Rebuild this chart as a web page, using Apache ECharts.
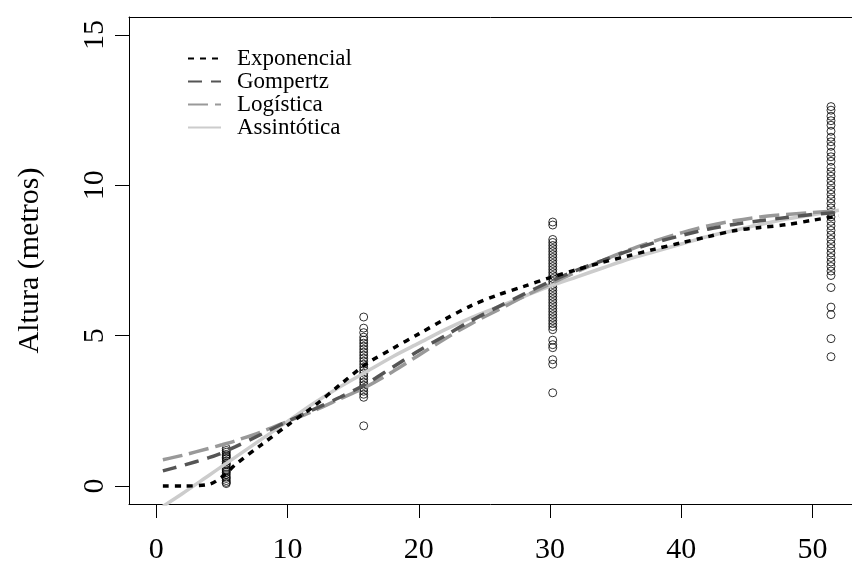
<!DOCTYPE html>
<html>
<head>
<meta charset="utf-8">
<script src="https://cdn.jsdelivr.net/npm/echarts@6/dist/echarts.min.js"></script>
<style>
  html, body { margin: 0; padding: 0; background: #fff; }
  #chart { width: 852px; height: 562px; }
</style>
</head>
<body>
<div id="chart"></div>
<script>
// observed heights (metros) at each age
const ageCol = [5.33, 15.8, 30.2, 51.4];
const heights1 = [0.08, 0.12, 0.18, 0.25, 0.3, 0.38, 0.45, 0.5, 0.55, 0.62, 0.7, 0.75, 0.82, 0.9, 0.95, 1.0, 1.05, 1.12, 1.18, 1.25];
const heights2 = [5.62, 5.25, 5.1, 4.95, 4.85, 4.75, 4.65, 4.55, 4.45, 4.35, 4.25, 4.15, 4.05, 3.95, 3.85, 3.75, 3.65, 3.55, 3.45, 3.35, 3.25, 3.15, 3.05, 2.95, 2.0];
const heights3 = [8.78, 8.68, 8.2, 8.1, 8.0, 7.9, 7.8, 7.7, 7.6, 7.5, 7.4, 7.3, 7.2, 7.1, 7.0, 6.9, 6.8, 6.7, 6.6, 6.5, 6.4, 6.3, 6.2, 6.1, 6.0, 5.9, 5.8, 5.7, 5.6, 5.5, 5.4, 5.3, 5.2, 4.85, 4.7, 4.6, 4.2, 4.05, 3.1];
const heights4 = [12.62, 12.5, 12.3, 12.15, 12.0, 11.8, 11.6, 11.45, 11.3, 11.1, 10.95, 10.8, 10.6, 10.45, 10.3, 10.15, 10.0, 9.85, 9.7, 9.55, 9.4, 9.25, 9.1, 8.95, 8.8, 8.65, 8.5, 8.35, 8.2, 8.05, 7.9, 7.75, 7.6, 7.45, 7.3, 7.15, 7.0, 6.6, 5.95, 5.7, 4.9, 4.3];

// fitted curves
const curveX = [0.5, 2, 4, 5, 6, 8, 10, 12, 14, 16, 18, 20, 22, 24, 26, 28, 30, 32, 34, 36, 38, 40, 42, 44, 46, 48, 50, 52];
const exponencial = [0, 0, 0.05, 0.3, 0.7, 1.37, 2.02, 2.65, 3.37, 4.06, 4.57, 5.06, 5.55, 6.0, 6.35, 6.64, 6.93, 7.19, 7.44, 7.66, 7.88, 8.09, 8.29, 8.49, 8.6, 8.69, 8.84, 8.98];
const gompertz = [0.5, 0.68, 0.94, 1.1, 1.3, 1.72, 2.15, 2.55, 2.95, 3.4, 3.95, 4.5, 5.0, 5.5, 5.95, 6.38, 6.8, 7.17, 7.5, 7.82, 8.1, 8.33, 8.54, 8.7, 8.82, 8.93, 9.03, 9.1];
const logistica = [0.87, 1.02, 1.25, 1.37, 1.5, 1.8, 2.15, 2.5, 2.9, 3.3, 3.8, 4.35, 4.9, 5.4, 5.85, 6.3, 6.72, 7.12, 7.5, 7.85, 8.15, 8.42, 8.65, 8.82, 8.95, 9.03, 9.1, 9.15];
const assintotica = [-0.68, -0.25, 0.35, 0.65, 0.95, 1.55, 2.15, 2.75, 3.3, 3.8, 4.3, 4.75, 5.2, 5.6, 5.95, 6.3, 6.65, 6.95, 7.25, 7.55, 7.8, 8.05, 8.3, 8.5, 8.7, 8.88, 9.02, 9.17];

const xTicks = [0, 10, 20, 30, 40, 50];
const yTicks = [0, 5, 10, 15];

const serif = '"Liberation Serif", "DejaVu Serif", serif';

let points = [];
[heights1, heights2, heights3, heights4].forEach((col, i) => {
  col.forEach(h => points.push([ageCol[i], h]));
});

function pairs(ys) {
  return curveX.map((x, i) => [x, ys[i]]);
}

const chart = echarts.init(document.getElementById('chart'));

const blackLine = { color: '#000', width: 1 };

const option = {
  animation: false,
  backgroundColor: '#fff',
  grid: {
    left: 129,
    top: 17,
    right: 0,
    bottom: 58,
    outerBoundsMode: 'none'
  },
  legend: {
    data: ['Exponencial', 'Gompertz', 'Logística', 'Assintótica'],
    orient: 'vertical',
    left: 187,
    top: 47,
    itemWidth: 33,
    itemHeight: 10,
    itemGap: 0,
    padding: 0,
    selectedMode: false,
    itemStyle: { color: 'transparent', borderColor: 'transparent', borderWidth: 0, opacity: 0 },
    textStyle: {
      fontFamily: serif,
      fontSize: 23,
      color: '#000',
      lineHeight: 22,
      padding: [0, 0, 0, 11]
    }
  },
  xAxis: [
    {
      type: 'value',
      position: 'bottom',
      min: -2.08,
      max: 53.0,
      splitLine: { show: false },
      axisLine: { show: true, onZero: false, lineStyle: blackLine },
      axisTick: {
        show: true,
        inside: false,
        length: 14,
        customValues: xTicks,
        lineStyle: blackLine
      },
      axisLabel: {
        customValues: xTicks,
        margin: 31,
        fontFamily: serif,
        fontSize: 30,
        color: '#000'
      }
    },
    {
      // top edge of the box
      type: 'value',
      position: 'top',
      min: -2.08,
      max: 53.0,
      splitLine: { show: false },
      axisLine: { show: true, onZero: false, lineStyle: blackLine },
      axisTick: { show: false },
      axisLabel: { show: false }
    }
  ],
  yAxis: {
    type: 'value',
    min: -0.6,
    max: 15.6,
    name: 'Altura (metros)',
    nameLocation: 'middle',
    nameGap: 84,
    nameTextStyle: {
      fontFamily: serif,
      fontSize: 30,
      color: '#000'
    },
    splitLine: { show: false },
    axisLine: { show: true, onZero: false, lineStyle: blackLine },
    axisTick: {
      show: true,
      inside: false,
      length: 14,
      customValues: yTicks,
      lineStyle: blackLine
    },
    axisLabel: {
      customValues: yTicks,
      rotate: 90,
      margin: 19,
      fontFamily: serif,
      fontSize: 30,
      color: '#000'
    }
  },
  series: [
    {
      name: 'Observado',
      type: 'scatter',
      data: points,
      symbol: 'circle',
      symbolSize: 8,
      itemStyle: { color: 'transparent', borderColor: '#000', borderWidth: 1 },
      z: 1
    },
    {
      name: 'Exponencial',
      type: 'line',
      data: pairs(exponencial),
      symbol: 'none',
      showSymbol: false,
      smooth: 0.3,
      lineStyle: { color: '#000', width: 3.5, type: [6, 6] },
      z: 5
    },
    {
      name: 'Gompertz',
      type: 'line',
      data: pairs(gompertz),
      symbol: 'none',
      showSymbol: false,
      smooth: 0.3,
      lineStyle: { color: '#555555', width: 3.5, type: [14, 9] },
      z: 4
    },
    {
      name: 'Logística',
      type: 'line',
      data: pairs(logistica),
      symbol: 'none',
      showSymbol: false,
      smooth: 0.3,
      lineStyle: { color: '#999999', width: 3.5, type: [20, 7] },
      z: 3
    },
    {
      name: 'Assintótica',
      type: 'line',
      data: pairs(assintotica),
      symbol: 'none',
      showSymbol: false,
      smooth: 0.3,
      lineStyle: { color: '#cccccc', width: 3.5, type: 'solid' },
      z: 2
    }
  ]
};

chart.setOption(option);
</script>
</body>
</html>
